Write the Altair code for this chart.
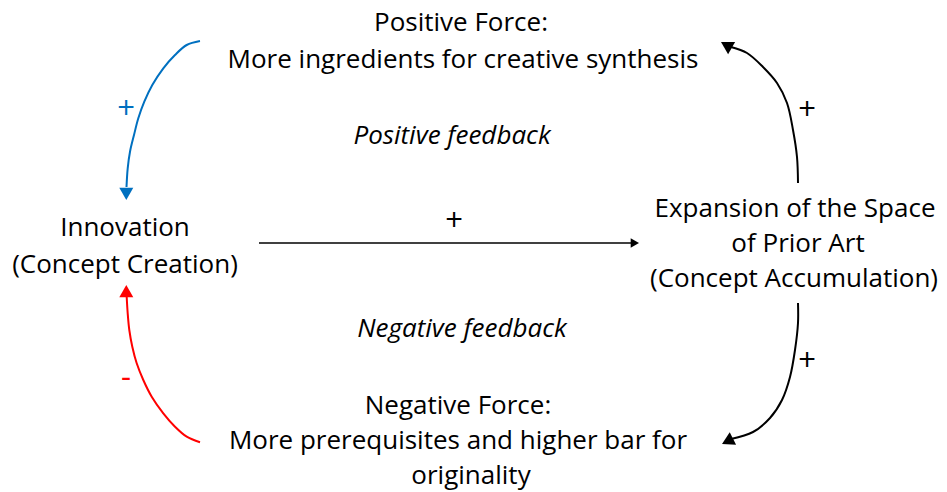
import altair as alt
import pandas as pd

# ---- curve points (page pixel coordinates) ----
blue_x = [200, 186.7, 175, 163.3, 152.3, 144.3, 138.3, 134, 130, 127.7, 126.5]
blue_y = [41, 45, 55, 68.3, 85, 101.7, 118.3, 135, 151.7, 168.3, 187]
red_x = [200, 186.7, 175, 163.3, 151.7, 143.3, 136.7, 132.3, 129.3, 127.7, 126.7]
red_y = [442.3, 436.7, 426.7, 413.3, 396.7, 380, 363.3, 346.7, 330, 313.3, 297]
up_x = [798, 797, 793, 787, 777, 763, 747, 731]
up_y = [183, 157, 130, 103, 83, 67, 53, 47]
down_x = [798, 798, 795, 790, 782, 770, 753, 731]
down_y = [303, 323, 350, 377, 400, 418, 432, 439]
horiz_x = [259, 632]
horiz_y = [243, 243]

# arrowheads: tip position, direction (deg, clockwise from up), colour, size
head_x = [126.3, 126.3, 721, 722, 639]
head_y = [200, 285, 42, 444, 243]
head_angle = [180, 0, 300, 243, 90]
head_color = ["#0070C0", "#FF0000", "#000000", "#000000", "#000000"]
head_size = [196, 196, 196, 196, 90]

# labels
label_text = ["Positive Force:", "More ingredients for creative synthesis",
              "Innovation", "(Concept Creation)",
              "Expansion of the Space", "of Prior Art", "(Concept Accumulation)",
              "Negative Force:", "More prerequisites and higher bar for", "originality"]
label_x = [461, 463, 125, 125, 795, 798, 794, 458, 458, 471]
label_y = [31, 68, 236, 273, 217, 252, 287, 414, 449, 484]

feedback_text = ["Positive feedback", "Negative feedback"]
feedback_x = [452, 462]
feedback_y = [144, 337]

sign_text = ["+", "-", "+", "+", "+"]
sign_x = [126, 126, 807, 807, 454]
sign_y = [110, 378, 111, 362, 222]
sign_color = ["#0070C0", "#FF0000", "#000000", "#000000", "#000000"]

# ---- tables ----
rows = []
for name, xs, ys, col, w in [("blue", blue_x, blue_y, "#0070C0", 2),
                             ("red", red_x, red_y, "#FF0000", 2),
                             ("up", up_x, up_y, "#000000", 2),
                             ("down", down_x, down_y, "#000000", 2),
                             ("horiz", horiz_x, horiz_y, "#000000", 1.6)]:
    for i, (xv, yv) in enumerate(zip(xs, ys)):
        rows.append({"curve": name, "seq": i, "x": xv, "y": yv, "color": col, "w": w})
lines_df = pd.DataFrame(rows)

heads_df = pd.DataFrame({"x": head_x, "y": head_y, "angle": head_angle,
                         "color": head_color, "size": head_size})
labels_df = pd.DataFrame({"text": label_text, "x": label_x, "y": label_y})
fb_df = pd.DataFrame({"text": feedback_text, "x": feedback_x, "y": feedback_y})
signs_df = pd.DataFrame({"text": sign_text, "x": sign_x, "y": sign_y, "color": sign_color})

X = alt.X("x:Q", scale=alt.Scale(domain=[8, 939], nice=False, zero=False), axis=None)
Y = alt.Y("y:Q", scale=alt.Scale(domain=[8, 492], nice=False, zero=False, reverse=True), axis=None)

FONT = "Open Sans"
FS = 26

lines = alt.Chart(lines_df).mark_line(interpolate="catmull-rom").encode(
    x=X, y=Y, detail="curve:N", order="seq:Q",
    color=alt.Color("color:N", scale=None),
    strokeWidth=alt.StrokeWidth("w:Q", scale=None),
)

heads = alt.Chart(heads_df).mark_point(
    filled=True, opacity=1, shape="M0,0L1,1.75L-1,1.75Z"
).encode(
    x=X, y=Y,
    angle=alt.Angle("angle:Q", scale=None),
    color=alt.Color("color:N", scale=None),
    size=alt.Size("size:Q", scale=None),
)

labels = alt.Chart(labels_df).mark_text(
    font=FONT, fontSize=FS, align="center", baseline="alphabetic", color="#000000"
).encode(x=X, y=Y, text="text:N")

fb = alt.Chart(fb_df).mark_text(
    font=FONT, fontSize=FS, fontStyle="italic", align="center", baseline="alphabetic",
    color="#000000"
).encode(x=X, y=Y, text="text:N")

signs = alt.Chart(signs_df).mark_text(
    font=FONT, fontSize=31, align="center", baseline="middle"
).encode(x=X, y=Y, text="text:N", color=alt.Color("color:N", scale=None))

chart = alt.layer(lines, heads, labels, fb, signs).properties(
    width=931, height=484, padding=0, autosize=alt.AutoSizeParams(type="none")
).configure_view(stroke=None)

chart.save("out.html", embed_options={"renderer": "svg", "actions": False})
